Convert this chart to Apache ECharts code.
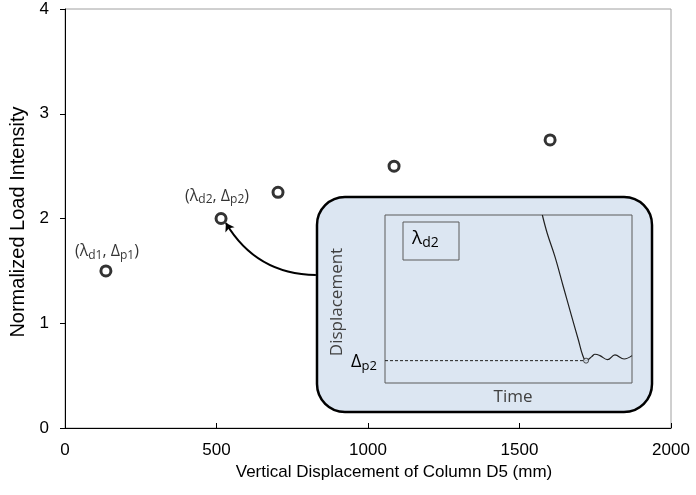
<!DOCTYPE html>
<html>
<head>
<meta charset="utf-8">
<script src="https://cdn.jsdelivr.net/npm/echarts@6/dist/echarts.min.js"></script>
<style>
  html, body { margin: 0; padding: 0; background: #fff; }
  #chart { width: 696px; height: 495px; }
</style>
</head>
<body>
<div id="chart"></div>
<script>
// main scatter: displacement (mm) vs normalized load intensity
var dispX = [135, 515, 703, 1086, 1601];
var loadY = [1.5, 2.0, 2.25, 2.5, 2.75];
var xTicks = [0, 500, 1000, 1500, 2000];
var yTicks = [0, 1, 2, 3, 4];
// arrow from inset box to second point (data coords)
var arrowFrom = [828, 1.46];
var arrowTo = [531, 1.957];
// inset sketch: time vs displacement, 0..100 on both axes
var insetT = [63.7, 65.7, 68.8, 72.2, 75.6, 78.3, 80, 81.4, 83.7, 85, 87, 90.1, 93.1, 96.8, 100];
var insetD = [100, 89, 75.2, 57.3, 39.5, 25.6, 16.7, 13.3, 15.7, 17.1, 16.3, 13.9, 16.7, 14.3, 16.3];
var peakLevel = 13.3;
var peakT = 81.4;

var chart = echarts.init(document.getElementById('chart'));

// subscript helper style: pushed down with top padding
function subStyle(size, drop, color) {
  return { fontSize: size, verticalAlign: 'top', padding: [drop, 0, 0, 0], lineHeight: 8,
    fontFamily: 'Open Sans', color: color };
}

var pts = dispX.map(function (x, i) { return [x, loadY[i]]; });
var rich = {
  n: { fontSize: 16, lineHeight: 22, fontFamily: 'Open Sans', color: '#000' },
  s: subStyle(12, 9, '#000')
};
pts[0] = { value: pts[0], label: { show: true, position: 'top', distance: 2, offset: [1, 0],
  formatter: '{n|(λ}{s|d1}{n|, Δ}{s|p1}{n|)}', rich: rich } };
pts[1] = { value: pts[1], label: { show: true, position: 'top', distance: 5, offset: [-4, 0],
  formatter: '{n|(λ}{s|d2}{n|, Δ}{s|p2}{n|)}', rich: rich } };

var curve = insetT.map(function (t, i) { return [t, insetD[i]]; });

var txt = { fontFamily: 'Open Sans', fill: '#404040' };

var option = {
  animation: false,
  backgroundColor: '#fff',
  grid: [
    { left: 65, right: 25, top: 9, bottom: 67, show: true, borderColor: '#a0a0a0', borderWidth: 1 },
    { left: 385, top: 215, width: 247, height: 168, show: true, borderColor: '#5a5a5a', borderWidth: 1, z: 3 }
  ],
  xAxis: [{
    type: 'value', min: xTicks[0], max: xTicks[xTicks.length - 1], interval: 500,
    name: 'Vertical Displacement of Column D5 (mm)', nameLocation: 'middle', nameGap: 31,
    nameTextStyle: { fontFamily: 'Liberation Sans', fontSize: 17, color: '#000', padding: [0, 0, 0, 52] },
    axisLine: { lineStyle: { color: '#000', width: 1 } },
    axisTick: { inside: true, length: 5, lineStyle: { color: '#000' } },
    axisLabel: { fontFamily: 'Liberation Sans', fontSize: 17, color: '#000', margin: 14,
      formatter: function (v) { return String(v); } },
    splitLine: { show: false }
  }, {
    type: 'value', gridIndex: 1, min: 0, max: 100, show: false
  }],
  yAxis: [{
    type: 'value', min: yTicks[0], max: yTicks[yTicks.length - 1], interval: 1,
    name: 'Normalized Load Intensity', nameLocation: 'middle', nameGap: 31,
    nameTextStyle: { fontFamily: 'Liberation Sans', fontSize: 20, color: '#000', padding: [0, 7, 0, 0] },
    axisLine: { show: true, lineStyle: { color: '#000', width: 1 } },
    axisTick: { show: true, length: 5, lineStyle: { color: '#000' } },
    axisLabel: { fontFamily: 'Liberation Sans', fontSize: 17, color: '#000', margin: 16,
      formatter: function (v) { return String(v); } },
    splitLine: { show: false }
  }, {
    type: 'value', gridIndex: 1, min: 0, max: 100, show: false
  }],
  graphic: [
    { type: 'rect', z: 1, shape: { x: 317, y: 197, width: 335, height: 215, r: 28 },
      style: { fill: '#dce6f2', stroke: '#000', lineWidth: 2.5 } },
    { type: 'rect', z: 4, shape: { x: 403, y: 222, width: 56, height: 38 },
      style: { fill: 'none', stroke: '#5a5a5a', lineWidth: 1 } },
    { type: 'text', z: 4, x: 412, y: 239,
      style: { text: '{a|λ}{b|d2}', verticalAlign: 'middle',
        rich: { a: { fontSize: 19, lineHeight: 26, fontFamily: 'Open Sans', color: '#404040' },
                b: subStyle(14, 10, '#404040') } } },
    { type: 'text', z: 4, x: 337, y: 302, rotation: Math.PI / 2,
      style: Object.assign({ text: 'Displacement', fontSize: 17, align: 'center', verticalAlign: 'middle' }, txt) },
    { type: 'text', z: 4, x: 513, y: 397,
      style: Object.assign({ text: 'Time', fontSize: 17, align: 'center', verticalAlign: 'middle' }, txt) },
    { type: 'text', z: 4, x: 351, y: 362,
      style: { text: '{a|Δ}{b|p2}', verticalAlign: 'middle',
        rich: { a: { fontSize: 18, lineHeight: 24, fontFamily: 'Open Sans', color: '#404040' },
                b: subStyle(13, 10, '#404040') } } }
  ],
  series: [{
    type: 'scatter', xAxisIndex: 0, yAxisIndex: 0, data: pts,
    symbol: 'circle', symbolSize: 10, z: 5,
    itemStyle: { color: '#fff', borderColor: '#000', borderWidth: 3 }
  }, {
    type: 'lines', coordinateSystem: 'cartesian2d', xAxisIndex: 0, yAxisIndex: 0, z: 4,
    symbol: ['none', 'arrow'], symbolSize: 8,
    lineStyle: { color: '#000', width: 2, curveness: 0.28, opacity: 1 },
    data: [{ coords: [arrowFrom, arrowTo] }]
  }, {
    type: 'line', xAxisIndex: 1, yAxisIndex: 1, data: curve, smooth: 0.4, showSymbol: false, z: 5,
    lineStyle: { color: '#202020', width: 1.2 }
  }, {
    type: 'line', xAxisIndex: 1, yAxisIndex: 1, data: [[0, peakLevel], [peakT, peakLevel]], showSymbol: false, z: 5,
    lineStyle: { color: '#202020', width: 1, type: [3, 2] }
  }, {
    type: 'scatter', xAxisIndex: 1, yAxisIndex: 1, data: [[peakT, peakLevel]], symbolSize: 5, z: 6,
    itemStyle: { color: '#dce6f2', borderColor: '#202020', borderWidth: 1 }
  }]
};
chart.setOption(option);
</script>
</body>
</html>
